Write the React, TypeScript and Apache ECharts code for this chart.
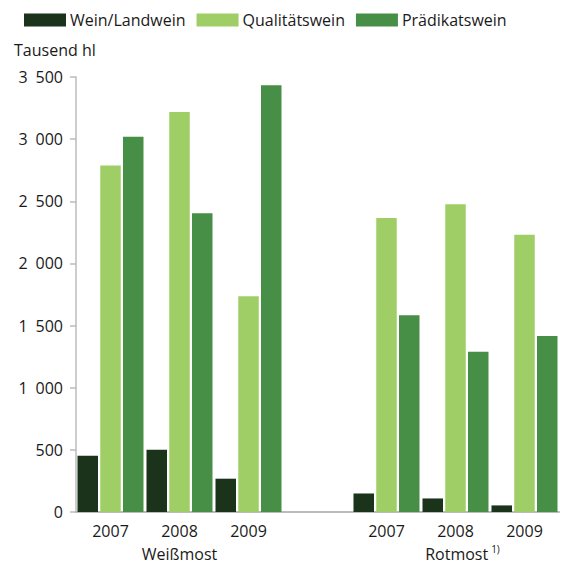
import React, { useEffect, useRef } from "react";
import * as echarts from "echarts";

const categories = ["2007", "2008", "2009", "", "2007", "2008", "2009"];
const groupLabels = ["", "Weißmost", "", "", "", "Rotmost", ""];
const seriesNames = ["Wein/Landwein", "Qualitätswein", "Prädikatswein"];
const weinLandwein = [452, 500, 268, null, 149, 109, 53];
const qualitaetswein = [2788, 3218, 1735, null, 2365, 2477, 2230];
const praedikatswein = [3020, 2404, 3433, null, 1584, 1289, 1417];
const colors = ["#1b331b", "#9fce67", "#478f46"];
const yTicks = { min: 0, max: 3500, interval: 500 };

const FONT = "Open Sans";
const TXT = "#1a1a1a";

export default function App() {
  const ref = useRef<HTMLDivElement>(null);
  useEffect(() => {
    if (!ref.current) return;
    const chart = echarts.init(ref.current, null, { renderer: "svg" });
    const values = [weinLandwein, qualitaetswein, praedikatswein];
    chart.setOption({
      animation: false,
      textStyle: { fontFamily: FONT, color: TXT },
      title: {
        text: "Tausend hl",
        left: 9,
        top: 37,
        textStyle: { fontFamily: FONT, fontSize: 16, fontWeight: "normal", color: TXT },
      },
      legend: {
        left: 19,
        top: 7,
        itemWidth: 42,
        itemHeight: 13,
        itemGap: 11,
        icon: "rect",
        textStyle: { fontFamily: FONT, fontSize: 16, color: TXT, padding: [0, 0, 0, -1] },
        data: seriesNames,
      },
      grid: { left: 76, right: 5, top: 77, bottom: 48, containLabel: false },
      xAxis: [
        {
          type: "category",
          data: categories,
          axisLine: { lineStyle: { color: "#bbbbbb", width: 2 } },
          axisTick: { show: false },
          axisLabel: { fontFamily: FONT, fontSize: 16, color: TXT, margin: 11, interval: 0 },
        },
        {
          type: "category",
          data: groupLabels,
          position: "bottom",
          offset: 21,
          axisLine: { show: false },
          axisTick: { show: false },
          axisLabel: {
            interval: 0,
            margin: 11,
            fontFamily: FONT,
            fontSize: 16,
            color: TXT,
            lineHeight: 20,
            formatter: (v: string) => (v === "Rotmost" ? "{pad|}" + v + "{sup|1)}" : v),
            rich: {
              pad: { width: 14 },
              sup: {
                fontSize: 10,
                lineHeight: 10,
                verticalAlign: "top",
                padding: [0, 0, 0, 3],
                fontFamily: FONT,
                color: TXT,
              },
            },
          },
        },
      ],
      yAxis: {
        type: "value",
        min: yTicks.min,
        max: yTicks.max,
        interval: yTicks.interval,
        axisLine: { show: true, lineStyle: { color: "#bbbbbb", width: 1.5 } },
        axisTick: { show: true, length: 6, lineStyle: { color: "#bbbbbb", width: 1.5 } },
        splitLine: { show: false },
        axisLabel: {
          fontFamily: FONT,
          fontSize: 16,
          color: TXT,
          margin: 13,
          formatter: (v: number) => String(v).replace(/\B(?=(\d{3})+(?!\d))/g, "\u2002"),
        },
      },
      series: seriesNames.map((name, i) => ({
        name,
        type: "bar",
        xAxisIndex: 0,
        data: values[i],
        barWidth: 20.5,
        barGap: "11%",
        itemStyle: { color: colors[i] },
      })),
    });
    return () => chart.dispose();
  }, []);
  return (
    <div
      ref={ref}
      style={{ position: "absolute", left: 0, top: 0, width: 564, height: 564 }}
    />
  );
}
